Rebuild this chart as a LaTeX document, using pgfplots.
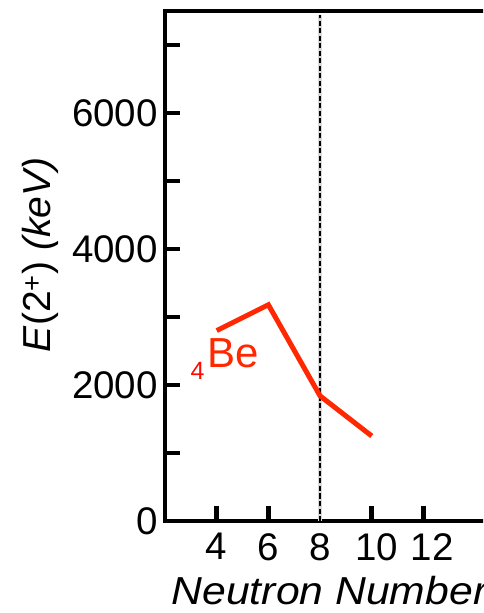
\documentclass[border=0pt]{standalone}
\usepackage{fontspec}
\setmainfont{Liberation Sans}
\newfontfamily\xlabfont[FakeStretch=1.095]{Liberation Sans}
\usepackage{pgfplots}
\pgfplotsset{compat=1.18}
\definecolor{beRed}{RGB}{255,40,0}
\definecolor{fourRed}{RGB}{255,10,0}
\newcommand{\tickfont}{\fontsize{38.5}{38.5}\selectfont}
\newcommand{\labfont}{\fontsize{39}{39}\selectfont}
\begin{document}
\begin{tikzpicture}
\clip (-165pt,-92pt) rectangle (318pt,521pt);
\begin{axis}[
  at={(0pt,0pt)}, anchor=south west,
  scale only axis, width=323pt, height=510pt,
  xmin=2, xmax=14.5, ymin=0, ymax=7500,
  xtick={4,6,8,10,12},
  xticklabels={4,6,8,\hspace{10pt}10,\hspace{18pt}12},
  ytick={0,2000,4000,6000},
  yticklabels={0\hspace{5pt},2000,4000,6000},
  minor ytick={1000,3000,5000,7000},
  xtick pos=left, ytick pos=left,
  tick align=inside,
  major tick length=15pt, minor tick length=15pt,
  every tick/.style={black, line width=4.5pt},
  every minor tick/.style={black, line width=4.5pt},
  axis line style={black, line width=4.5pt},
  xticklabel style={font=\tickfont, inner sep=0pt, yshift=-12pt},
  yticklabel style={font=\tickfont, inner sep=0pt, xshift=-7pt},
  clip=false,
]
\addplot[gray!30, line width=4pt] coordinates {(8,0) (8,7440)};
\addplot[black, line width=2pt, dash pattern=on 5pt off 2.5pt] coordinates {(8,0) (8,7440)};
\addplot[beRed, line width=5pt, line join=miter, line cap=butt] coordinates {
  (4,2800) (6,3180) (8,1840) (10,1250)};
\node[anchor=base west, inner sep=0pt, text=beRed, font=\fontsize{42}{42}\selectfont] at (axis cs:3.62,2250) {Be};
\node[anchor=base west, inner sep=0pt, text=fourRed, font=\fontsize{25}{25}\selectfont] at (axis cs:2.98,2074) {4};
\node[anchor=base west, inner sep=0pt, font=\labfont\xlabfont\itshape] at (axis description cs:0.02,-0.1647) {Neutron Number};
\node[anchor=base, rotate=90, inner sep=0pt, font=\labfont] at (axis description cs:-0.353,0.5216) {\textit{E}(2\textsuperscript{+}) \textit{(keV)}};
\end{axis}
\end{tikzpicture}
\end{document}
